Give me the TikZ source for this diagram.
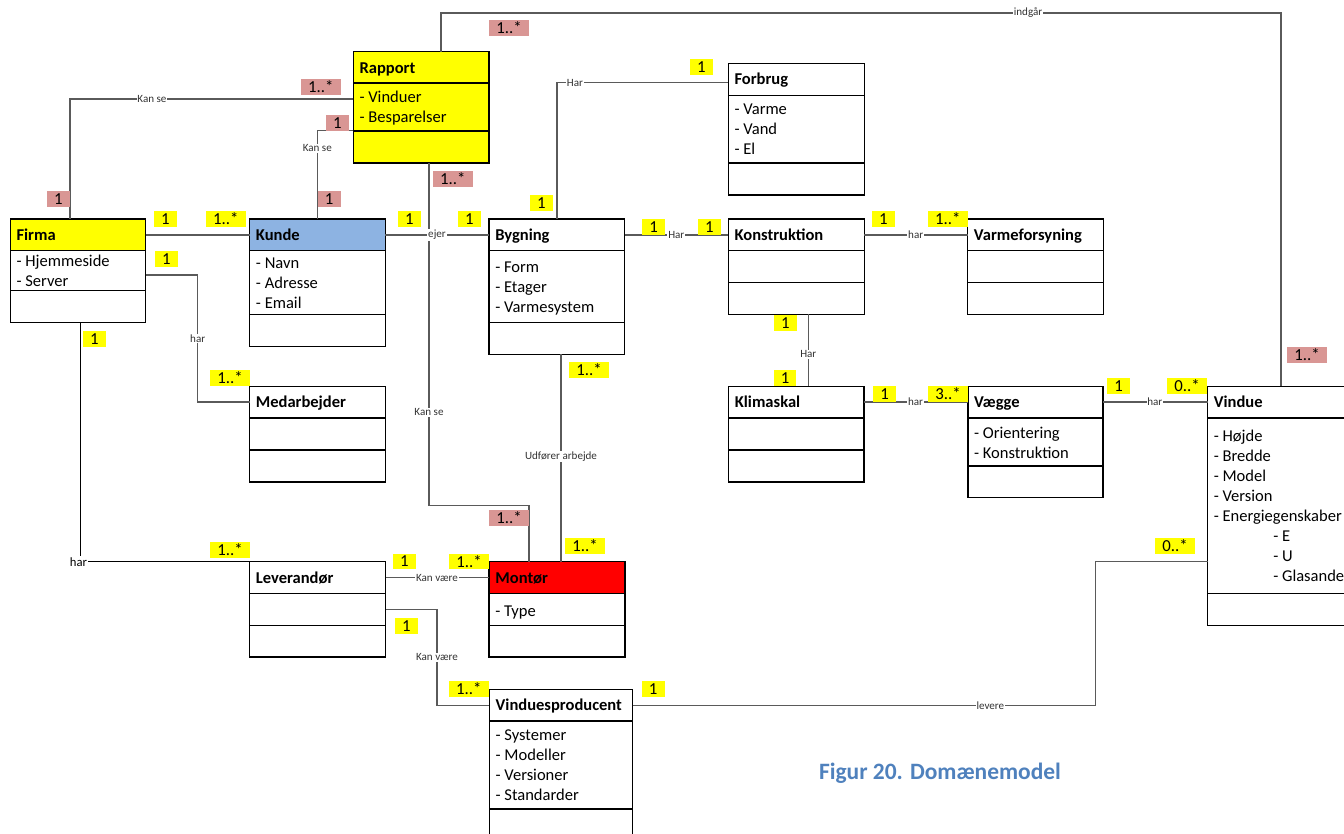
\documentclass[tikz,border=0pt]{standalone}
\usepackage{fontspec}
\setmainfont{Carlito}
\usetikzlibrary{fit}

\definecolor{multyellow}{HTML}{FFFF00}
\definecolor{multpink}{HTML}{D99694}
\definecolor{kundeblue}{HTML}{8DB3E2}
\definecolor{montred}{HTML}{FF0000}
\definecolor{captionblue}{HTML}{4F81BD}
\definecolor{linegray}{HTML}{5A5A5A}

% UML class box: name, left, top, right, title bottom, attribute bottom, bottom, title fill
\newcommand{\klasse}[8]{%
  \fill[#8] (#2,#3) rectangle (#4,#5);
  \node[boxframe, fit={(#2,#3) (#4,#7)}] (#1) {};
  \draw[boxline] (#2,#5) -- (#4,#5) (#2,#6) -- (#4,#6);
}

\begin{document}
\begin{tikzpicture}[x=0.75pt,y=-0.75pt,
  boxframe/.style={draw=black, line width=1.1pt, inner sep=0pt, outer sep=0pt},
  boxline/.style={draw=black, line width=1.1pt},
  conn/.style={draw=linegray, line width=1.1pt},
  title/.style={anchor=base west, inner sep=0pt, font=\fontsize{12.4}{15}\selectfont\bfseries},
  attr/.style={anchor=base west, inner sep=0pt, font=\fontsize{12.4}{15}\selectfont},
  lbl/.style={fill=white, inner sep=0.6pt, text=black!80, font=\fontsize{8.3}{9}\selectfont},
  mult/.style={inner sep=0pt, minimum height=11.8pt, font=\fontsize{12.6}{15}\selectfont},
  one/.style={mult, minimum width=17pt},
  many/.style={mult, minimum width=30pt},
  ym/.style={fill=multyellow},
  pm/.style={fill=multpink},
]
\useasboundingbox (0,0) rectangle (1344,834);
\clip (0,0) rectangle (1344,834);

% ---------- classes ----------
\fill[multyellow] (353.3,51.7) rectangle (489,163);
\klasse{rapport}{353.3}{51.7}{489}{83}{131}{163}{multyellow}
\klasse{firma}{10.3}{219}{145.7}{250.7}{290.7}{322.3}{multyellow}
\klasse{kunde}{249.7}{219}{385.3}{250.7}{314.3}{346.3}{kundeblue}
\klasse{bygning}{489}{219}{624.7}{250.3}{322.7}{354.3}{white}
\klasse{forbrug}{728.3}{63.3}{864.3}{95.3}{163}{195}{white}
\klasse{konstruktion}{728.3}{219}{864.3}{250.7}{282.7}{314.3}{white}
\klasse{varmeforsyning}{967.7}{219}{1103.3}{250.7}{282.7}{314.3}{white}
\klasse{medarbejder}{249.6}{386.3}{385.6}{418}{450}{482}{white}
\klasse{klimaskal}{728.6}{386.3}{864}{418}{450}{482}{white}
\klasse{vaegge}{967.8}{386.3}{1103.2}{418}{466}{497.7}{white}
\klasse{vindue}{1207.5}{386.3}{1380}{418}{593.3}{625.7}{white}
\klasse{leverandoer}{249.6}{561.7}{385.6}{593.3}{625.3}{657}{white}
\klasse{montoer}{489.2}{561.7}{624.8}{593.3}{625.3}{657}{montred}
\klasse{producent}{489.4}{689.3}{632.6}{721}{809}{860}{white}

% ---------- titles ----------
\node[title] (rapport-t) at (359.3,73.2) {Rapport};
\node[title] (firma-t) at (16.3,240.5) {Firma};
\node[title] (kunde-t) at (255.7,240.5) {Kunde};
\node[title] (bygning-t) at (495,240.5) {Bygning};
\node[title] (forbrug-t) at (734.3,84.8) {Forbrug};
\node[title] (konstruktion-t) at (734.3,240.5) {Konstruktion};
\node[title] (varmeforsyning-t) at (973.7,240.5) {Varmeforsyning};
\node[title] (medarbejder-t) at (255.6,407.8) {Medarbejder};
\node[title] (klimaskal-t) at (734.6,407.8) {Klimaskal};
\node[title] (vaegge-t) at (973.8,407.8) {Vægge};
\node[title] (vindue-t) at (1213.5,407.8) {Vindue};
\node[title] (leverandoer-t) at (255.6,583.2) {Leverandør};
\node[title] (montoer-t) at (495.2,583.2) {Montør};
\node[title] (producent-t) at (495.4,710.8) {Vinduesproducent};

% ---------- attributes ----------
\foreach \t [count=\i] in {- Vinduer, - Besparelser}
  \node[attr] (rapport-a\i) at (359.3,{102.7+20*(\i-1)}) {\t};
\foreach \t [count=\i] in {- Hjemmeside, - Server}
  \node[attr] (firma-a\i) at (16.3,{266.7+20*(\i-1)}) {\t};
\foreach \t [count=\i] in {- Navn, - Adresse, - Email}
  \node[attr] (kunde-a\i) at (255.7,{268.3+20*(\i-1)}) {\t};
\foreach \t [count=\i] in {- Form, - Etager, - Varmesystem}
  \node[attr] (bygning-a\i) at (495,{272.7+20*(\i-1)}) {\t};
\foreach \t [count=\i] in {- Varme, - Vand, - El}
  \node[attr] (forbrug-a\i) at (734.3,{114.7+20*(\i-1)}) {\t};
\foreach \t [count=\i] in {- Orientering, - Konstruktion}
  \node[attr] (vaegge-a\i) at (973.8,{438.3+20*(\i-1)}) {\t};
\foreach \t [count=\i] in {- Højde, - Bredde, - Model, - Version, - Energiegenskaber}
  \node[attr] (vindue-a\i) at (1213.5,{441+20*(\i-1)}) {\t};
\foreach \t [count=\i] in {- E, - U, - Glasandel}
  \node[attr] (vindue-e\i) at (1273,{541+20*(\i-1)}) {\t};
\node[attr] (montoer-a1) at (495,616) {- Type};
\foreach \t [count=\i] in {- Systemer, - Modeller, - Versioner, - Standarder}
  \node[attr] (producent-a\i) at (495.4,{740.7+20*(\i-1)}) {\t};

% ---------- bend points and rows ----------
\coordinate (i1) at (441,13);
\coordinate (i2) at (1281,13);
\coordinate (k1) at (70,99);
\coordinate (k2) at (317.3,130.7);
\coordinate (k3a) at (429,505.7);
\coordinate (k3b) at (529,505.7);
\coordinate (h1) at (0,235);
\coordinate (h2) at (0,402);
\coordinate (h3) at (0,577.7);
\coordinate (m1a) at (197.7,275);
\coordinate (m1b) at (197.7,402);
\coordinate (l1) at (80.7,561.7);
\coordinate (f1) at (557,82.7);
\coordinate (v1) at (808.3,0);
\coordinate (v2) at (561,0);
\coordinate (p1) at (437,609.3);
\coordinate (p2) at (437,705.3);
\coordinate (q1) at (1095.4,705.3);
\coordinate (q2) at (1095.4,561.7);

% ---------- associations ----------
\draw[conn] (rapport.north -| i1) -- (i1) -- (i2) -- (vindue.north -| i2);
\draw[conn] (firma.north -| k1) -- (k1) -- (rapport.west |- k1);
\draw[conn] (kunde.north -| k2) -- (k2) -- (rapport.west |- k2);
\draw[conn] (rapport.south -| k3a) -- (k3a) -- (k3b) -- (montoer.north -| k3b);
\draw[conn] (firma.east |- h1) -- (kunde.west |- h1);
\draw[conn] (firma.east |- m1a) -- (m1a) -- (m1b) -- (medarbejder.west |- m1b);
\draw[conn, draw=black] (firma.south -| l1) -- (l1) -- (leverandoer.north);
\draw[conn] (kunde.east |- h1) -- (bygning.west |- h1);
\draw[conn] (bygning.north -| f1) -- (f1) -- (forbrug.west |- f1);
\draw[conn] (bygning.east |- h1) -- (konstruktion.west |- h1);
\draw[conn] (konstruktion.east |- h1) -- (varmeforsyning.west |- h1);
\draw[conn] (konstruktion.south -| v1) -- (klimaskal.north -| v1);
\draw[conn] (klimaskal.east |- h2) -- (vaegge.west |- h2);
\draw[conn] (vaegge.east |- h2) -- (vindue.west |- h2);
\draw[conn] (bygning.south -| v2) -- (montoer.north -| v2);
\draw[conn] (leverandoer.east |- h3) -- (montoer.west |- h3);
\draw[conn] (leverandoer.east |- p1) -- (p1) -- (p2) -- (producent.west |- p2);
\draw[conn] (producent.east |- q1) -- (q1) -- (q2) -- (vindue.west |- q2);

% ---------- association names ----------
\node[lbl] (lb-indgaar) at (1028,13) {indgår};
\node[lbl] (lb-kanse1) at (152,99) {Kan se};
\node[lbl] (lb-kanse2) at (317.3,148.3) {Kan se};
\node[lbl] (lb-kanse3) at (429,412.3) {Kan se};
\node[lbl] (lb-ejer) at (437,235) {ejer};
\node[lbl] (lb-har1) at (575,82.7) {Har};
\node[lbl] (lb-har2) at (676.3,235) {Har};
\node[lbl] (lb-har3) at (915.7,235) {har};
\node[lbl] (lb-har4) at (808.3,354.3) {Har};
\node[lbl] (lb-har5) at (197.7,338.3) {har};
\node[lbl, text=black, font=\fontsize{9.5}{10}\selectfont] (lb-har6) at (78.5,561.7) {har};
\node[lbl] (lb-har7) at (915.6,402) {har};
\node[lbl] (lb-har8) at (1154.8,402) {har};
\node[lbl] (lb-udf) at (561,456.7) {Udfører arbejde};
\node[lbl] (lb-kanvaere1) at (437,577.7) {Kan være};
\node[lbl] (lb-kanvaere2) at (437,657.3) {Kan være};
\node[lbl] (lb-levere) at (990.3,705.3) {levere};

% ---------- multiplicities ----------
\node[many,pm] (n1) at (509,27.8) {1..*};
\node[many,pm] (n2) at (1307,354.8) {1..*};
\node[one,pm] (n3) at (58.5,198.8) {1};
\node[many,pm] (n4) at (320.8,87) {1..*};
\node[one,pm] (n5) at (337.3,122.7) {1};
\node[one,pm] (n6) at (329.2,198.8) {1};
\node[many,pm] (n7) at (452.8,178.8) {1..*};
\node[many,pm] (n8) at (509,517.8) {1..*};
\node[one,ym] (n9) at (165.3,218.8) {1};
\node[many,ym] (n10) at (225.8,218.8) {1..*};
\node[one,ym] (n11) at (166.3,258.8) {1};
\node[many,ym] (n12) at (230,377.8) {1..*};
\node[one,ym] (n13) at (94.3,338.8) {1};
\node[many,ym] (n14) at (230,549.8) {1..*};
\node[one,ym] (n15) at (409.3,218.8) {1};
\node[one,ym] (n16) at (469.3,218.8) {1};
\node[one,ym] (n17) at (541.3,202.8) {1};
\node[one,ym] (n18) at (701.3,66.8) {1};
\node[one,ym] (n19) at (653.5,227) {1};
\node[one,ym] (n20) at (709.3,227) {1};
\node[one,ym] (n21) at (883.3,218.8) {1};
\node[many,ym] (n22) at (947.8,218.8) {1..*};
\node[one,ym] (n23) at (785.3,322.8) {1};
\node[one,ym] (n24) at (785,378) {1};
\node[one,ym] (n25) at (884.5,394) {1};
\node[many,ym] (n26) at (948,394) {3..*};
\node[one,ym] (n27) at (1118.5,385.8) {1};
\node[many,ym] (n28) at (1187,385.8) {0..*};
\node[many,ym] (n29) at (589,370) {1..*};
\node[many,ym] (n30) at (585,545.8) {1..*};
\node[one,ym] (n31) at (404.5,561.5) {1};
\node[many,ym] (n32) at (469,561.5) {1..*};
\node[one,ym] (n33) at (406.3,625.7) {1};
\node[many,ym] (n34) at (468.8,688.8) {1..*};
\node[one,ym] (n35) at (653.2,688.8) {1};
\node[many,ym] (n36) at (1175,546) {0..*};

% ---------- caption ----------
\node[font=\fontsize{17.6}{21}\selectfont\bfseries, text=captionblue] (caption) at (940,773.3) {Figur 20. Domænemodel};
\end{tikzpicture}
\end{document}
